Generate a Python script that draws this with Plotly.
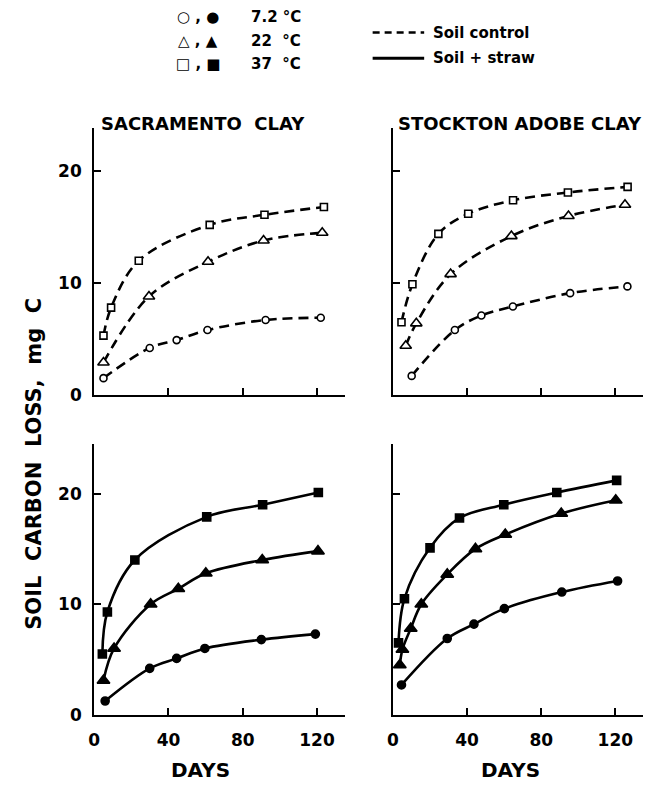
import plotly.graph_objects as go

# ---------------- data ----------------
# Sacramento clay, soil control (open symbols, dashed)
sc_ctrl_37_days = [5.0, 9.1, 24.0, 62.2, 91.7, 123.7]
sc_ctrl_37_vals = [5.3, 7.8, 12.0, 15.2, 16.1, 16.8]
sc_ctrl_22_days = [5.0, 29.5, 61.3, 91.2, 122.8]
sc_ctrl_22_vals = [2.9, 8.8, 11.9, 13.8, 14.5]
sc_ctrl_7_days = [5.0, 29.9, 44.4, 61.0, 92.3, 122.0]
sc_ctrl_7_vals = [1.5, 4.2, 4.9, 5.8, 6.7, 6.9]

# Stockton adobe clay, soil control
st_ctrl_37_days = [4.6, 10.5, 24.5, 40.6, 64.8, 94.4, 126.6]
st_ctrl_37_vals = [6.5, 9.9, 14.4, 16.2, 17.4, 18.1, 18.6]
st_ctrl_22_days = [6.9, 12.6, 31.1, 63.9, 94.7, 125.2]
st_ctrl_22_vals = [4.4, 6.4, 10.8, 14.2, 16.0, 17.0]
st_ctrl_7_days = [10.1, 33.4, 47.7, 64.7, 95.6, 126.5]
st_ctrl_7_vals = [1.7, 5.8, 7.1, 7.9, 9.1, 9.7]

# Sacramento clay, soil + straw (filled symbols, solid)
sc_str_37_days = [4.4, 7.1, 21.9, 60.6, 90.7, 120.7]
sc_str_37_vals = [5.5, 9.3, 14.0, 17.9, 19.0, 20.1]
sc_str_22_days = [5.0, 10.7, 30.4, 45.3, 60.1, 90.5, 120.5]
sc_str_22_vals = [3.1, 6.0, 10.0, 11.4, 12.8, 14.0, 14.8]
sc_str_7_days = [5.9, 29.9, 44.4, 59.6, 90.0, 119.1]
sc_str_7_vals = [1.25, 4.2, 5.1, 6.0, 6.8, 7.3]

# Stockton adobe clay, soil + straw
st_str_37_days = [3.0, 6.2, 20.0, 35.9, 59.8, 88.4, 120.7]
st_str_37_vals = [6.5, 10.5, 15.1, 17.8, 19.0, 20.1, 21.2]
st_str_22_days = [3.7, 5.1, 9.6, 15.3, 29.3, 44.5, 60.6, 90.8, 120.2]
st_str_22_vals = [4.5, 5.9, 7.8, 10.0, 12.7, 15.0, 16.3, 18.2, 19.4]
st_str_7_days = [4.6, 29.3, 43.7, 60.1, 91.1, 121.2]
st_str_7_vals = [2.7, 6.9, 8.2, 9.6, 11.1, 12.1]

x_ticks = [0, 40, 80, 120]
y_ticks = [0, 10, 20]
panel_titles = ["SACRAMENTO\u00a0\u00a0CLAY", "STOCKTON\u00a0ADOBE\u00a0CLAY"]
temp_labels = ["7.2\u00a0°C", "22\u00a0\u00a0°C", "37\u00a0\u00a0°C"]
temp_glyphs = ["○\u00a0,\u00a0●", "△\u00a0,\u00a0▲", "□\u00a0,\u00a0■"]
line_labels = ["Soil\u00a0control", "Soil\u00a0+\u00a0straw"]

# ---------------- figure ----------------
W, H = 661, 787
FONT = "DejaVu Sans"
fig = go.Figure()

def px(v):
    return v / W

def py(v):
    return 1 - v / H

def add_series(days, vals, xa, ya, symbol, filled, dashed, msize):
    fig.add_trace(go.Scatter(
        x=days, y=vals, xaxis=xa, yaxis=ya, mode="lines+markers",
        line=dict(color="black", width=2.6, shape="spline", smoothing=1.0,
                  dash="10px,6px" if dashed else "solid"),
        marker=dict(symbol=symbol, size=msize,
                    color="black" if filled else "white",
                    line=dict(color="black", width=1.6)),
        cliponaxis=False, showlegend=False, hoverinfo="skip"))

# top-left
add_series(sc_ctrl_37_days, sc_ctrl_37_vals, "x", "y", "square", False, True, 7)
add_series(sc_ctrl_22_days, sc_ctrl_22_vals, "x", "y", "triangle-up", False, True, 10)
add_series(sc_ctrl_7_days, sc_ctrl_7_vals, "x", "y", "circle", False, True, 7)
# top-right
add_series(st_ctrl_37_days, st_ctrl_37_vals, "x2", "y2", "square", False, True, 7)
add_series(st_ctrl_22_days, st_ctrl_22_vals, "x2", "y2", "triangle-up", False, True, 10)
add_series(st_ctrl_7_days, st_ctrl_7_vals, "x2", "y2", "circle", False, True, 7)
# bottom-left
add_series(sc_str_37_days, sc_str_37_vals, "x3", "y3", "square", True, False, 8)
add_series(sc_str_22_days, sc_str_22_vals, "x3", "y3", "triangle-up", True, False, 11)
add_series(sc_str_7_days, sc_str_7_vals, "x3", "y3", "circle", True, False, 8)
# bottom-right
add_series(st_str_37_days, st_str_37_vals, "x4", "y4", "square", True, False, 8)
add_series(st_str_22_days, st_str_22_vals, "x4", "y4", "triangle-up", True, False, 11)
add_series(st_str_7_days, st_str_7_vals, "x4", "y4", "circle", True, False, 8)

left_dom = [px(89), px(342)]
right_dom = [px(390.5), px(643)]
top_dom = [py(400), py(130)]
bot_dom = [py(724), py(450)]
tickfont = dict(family=FONT, size=17, color="black", weight="bold")

def xax(dom, anchor, labels):
    return dict(domain=dom, anchor=anchor, range=[0, 135], tickvals=x_ticks,
                showticklabels=labels, ticks="inside", ticklen=7, tickwidth=2,
                tickcolor="black", showline=True, linecolor="black", linewidth=2,
                showgrid=False, zeroline=False, tickfont=tickfont,
                ticklabelstandoff=9, fixedrange=True)

def yax(dom, anchor, rng, labels):
    return dict(domain=dom, anchor=anchor, range=rng, tickvals=y_ticks,
                showticklabels=labels, ticks="inside", ticklen=7, tickwidth=2,
                tickcolor="black", showline=True, linecolor="black", linewidth=2,
                showgrid=False, zeroline=False, tickfont=tickfont,
                ticklabelstandoff=7, fixedrange=True)

top_rng = [0, 270 / 11.33]
bot_rng = [0, 274 / 11.2]

fig.update_layout(
    width=W, height=H, autosize=False,
    margin=dict(l=0, r=0, t=0, b=0, pad=0),
    paper_bgcolor="white", plot_bgcolor="white",
    xaxis=xax(left_dom, "y", False), yaxis=yax(top_dom, "x", top_rng, True),
    xaxis2=xax(right_dom, "y2", False), yaxis2=yax(top_dom, "x2", top_rng, False),
    xaxis3=xax(left_dom, "y3", True), yaxis3=yax(bot_dom, "x3", bot_rng, True),
    xaxis4=xax(right_dom, "y4", True), yaxis4=yax(bot_dom, "x4", bot_rng, False),
    showlegend=False,
)

ann = []
def text(t, x, y, size, xanchor="left", angle=0):
    ann.append(dict(text=t, x=px(x), y=py(y), xref="paper", yref="paper",
                    xanchor=xanchor, yanchor="middle", showarrow=False,
                    textangle=angle,
                    font=dict(family=FONT, size=size, color="black", weight="bold")))

# panel titles
text(panel_titles[0], 94, 125, 18)
text(panel_titles[1], 394, 125, 18)
# axis titles
text("DAYS", 196, 780, 20, "center")
text("DAYS", 509, 780, 20, "center")
text("SOIL\u00a0\u00a0CARBON\u00a0\u00a0LOSS,\u00a0\u00a0mg\u00a0\u00a0C", 28, 470, 21, "center", -90)
# temperature key
for i, yy in enumerate([17, 42, 65]):
    text(temp_glyphs[i], 194, yy, 15, "center")
    text(temp_labels[i], 245, yy, 15)
# line key
text(line_labels[0], 429, 33, 15)
text(line_labels[1], 429, 59, 15)
fig.update_layout(annotations=ann)

fig.add_shape(type="line", xref="paper", yref="paper", x0=px(370), x1=px(422),
              y0=py(33), y1=py(33), line=dict(color="black", width=2.5, dash="7px,5px"))
fig.add_shape(type="line", xref="paper", yref="paper", x0=px(370), x1=px(422),
              y0=py(59), y1=py(59), line=dict(color="black", width=3))

fig.write_html("out.html", config={"displayModeBar": False},
               post_script="document.body.style.margin='0';document.body.style.overflow='hidden';")
